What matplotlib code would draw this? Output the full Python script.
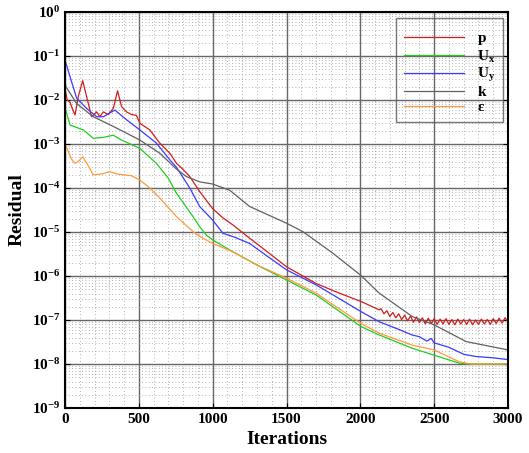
import numpy as np
import matplotlib
matplotlib.use('Agg')
import matplotlib.pyplot as plt
from matplotlib.ticker import FixedLocator, FixedFormatter, MultipleLocator, LogLocator

plt.rcParams['font.family'] = ['Liberation Serif', 'DejaVu Serif']
plt.rcParams['mathtext.fontset'] = 'custom'
plt.rcParams['mathtext.rm'] = 'Liberation Serif'
plt.rcParams['mathtext.bf'] = 'Liberation Serif:bold'
plt.rcParams['mathtext.it'] = 'Liberation Serif:italic'

# residual histories, x = iteration, e = log10(residual)
p_x = [0, 15, 34, 50, 68, 90, 120, 146, 180, 214, 236, 260, 293, 327, 356, 383, 417, 450, 484, 507,
       574, 642, 710, 755, 800, 845, 912, 1000, 1070, 1137, 1250, 1370, 1500, 1600, 1700, 1850, 2005,
       2128] + list(range(2140, 3001, 20))
p_e = [-1.75, -2.0, -2.05, -2.2, -2.34, -1.92, -1.56, -1.92, -2.38, -2.27, -2.38, -2.27, -2.33, -2.19,
       -1.79, -2.15, -2.27, -2.33, -2.35, -2.53, -2.68, -2.98, -3.21, -3.44, -3.58, -3.74, -4.08, -4.47,
       -4.68, -4.84, -5.14, -5.45, -5.79, -5.98, -6.17, -6.38, -6.58, -6.77,
       -6.74, -6.86, -6.79, -6.92, -6.83, -6.95, -6.86, -6.99, -6.89, -7.02, -6.91, -7.05, -6.93, -7.06,
       -6.95, -7.09, -6.96, -7.08, -6.97, -7.1, -6.98, -7.09, -6.97, -7.1, -6.99, -7.11, -6.98, -7.09,
       -6.99, -7.1, -6.98, -7.11, -7.0, -7.1, -6.98, -7.09, -6.99, -7.1, -6.97, -7.08, -6.96, -7.07,
       -6.95, -7.04]

ux_x = [0, 5, 34, 124, 191, 260, 327, 383, 507, 619, 700, 755, 867, 912, 957, 1000, 1137, 1300, 1500,
        1700, 2005, 2128, 2350, 2500, 2669, 2750, 3000]
ux_e = [-2.0, -2.23, -2.57, -2.68, -2.87, -2.85, -2.8, -2.91, -3.1, -3.44, -3.78, -4.12, -4.65, -4.88,
        -5.07, -5.18, -5.45, -5.75, -6.09, -6.43, -7.15, -7.34, -7.64, -7.8, -7.98, -8.0, -8.0]

uy_x = [0, 7, 34, 79, 146, 214, 260, 300, 338, 417, 507, 619, 710, 755, 845, 912, 1000, 1070, 1150,
        1250, 1370, 1500, 1600, 1700, 1850, 2005, 2128, 2250, 2350, 2400, 2450, 2480, 2500, 2600, 2700,
        2784, 2900, 3000]
uy_e = [-1.1, -1.17, -1.47, -1.96, -2.19, -2.38, -2.38, -2.3, -2.23, -2.45, -2.68, -2.98, -3.36, -3.53,
        -4.0, -4.42, -4.73, -5.03, -5.12, -5.26, -5.55, -5.86, -6.03, -6.2, -6.5, -6.81, -7.04, -7.2,
        -7.34, -7.38, -7.48, -7.42, -7.52, -7.62, -7.78, -7.83, -7.86, -7.9]

k_x = [0, 7, 79, 191, 327, 507, 642, 755, 822, 912, 1000, 1115, 1250, 1500, 1610, 1813, 2005, 2128,
       2351, 2500, 2716, 3000]
k_e = [-1.6, -1.7, -2.08, -2.38, -2.6, -2.91, -3.21, -3.57, -3.74, -3.86, -3.91, -4.05, -4.42, -4.8,
       -4.99, -5.48, -5.99, -6.39, -6.92, -7.11, -7.49, -7.68]

eps_x = [0, 20, 45, 68, 95, 120, 150, 191, 250, 304, 350, 394, 450, 507, 575, 642, 755, 867, 912, 1000,
         1137, 1300, 1500, 1700, 2005, 2128, 2350, 2500, 2669, 2750, 3000]
eps_e = [-3.0, -3.15, -3.35, -3.44, -3.38, -3.29, -3.45, -3.7, -3.68, -3.63, -3.68, -3.7, -3.72, -3.82,
         -4.0, -4.23, -4.65, -4.99, -5.1, -5.26, -5.45, -5.75, -6.05, -6.39, -7.08, -7.3, -7.57, -7.68,
         -7.95, -8.0, -8.0]

series = [
    (p_x, p_e, '#d41c1c', r'$\mathbf{p}$'),
    (ux_x, ux_e, '#22cc22', r'$\mathbf{U_x}$'),
    (uy_x, uy_e, '#3a3aff', r'$\mathbf{U_y}$'),
    (k_x, k_e, '#606060', r'$\mathbf{k}$'),
    (eps_x, eps_e, '#ff9a3c', r'$\mathbf{\epsilon}$'),
]

fig = plt.figure(figsize=(5.29, 4.53), dpi=100)
ax = fig.add_axes([65 / 529, 1 - 408 / 453, 443 / 529, 396 / 453])

for xs, es, c, lab in series:
    ax.semilogy(xs, np.power(10.0, es), color=c, lw=0.9, label=lab)

ax.set_xlim(0, 3000)
ax.set_ylim(1e-9, 1)

ax.xaxis.set_major_locator(MultipleLocator(500))
ax.xaxis.set_minor_locator(MultipleLocator(100))
decades = list(range(-9, 1))
ax.yaxis.set_major_locator(FixedLocator([10.0 ** d for d in decades]))
ax.yaxis.set_major_formatter(FixedFormatter([r'$\mathbf{10^{%d}}$' % d for d in decades]))
ax.yaxis.set_minor_locator(LogLocator(base=10, subs=np.arange(2, 10), numticks=20))

ax.grid(which='major', color='#666666', lw=1.0, ls='-')
ax.grid(which='minor', color='#999999', lw=0.6, ls=(0, (1, 3)))
ax.set_axisbelow(True)

ax.tick_params(which='both', direction='in', right=True, top=False, labelsize=11)
ax.tick_params(which='minor', length=0)
for lbl in ax.get_xticklabels():
    lbl.set_fontweight('bold')
for s in ax.spines.values():
    s.set_linewidth(1.5)

ax.set_xlabel('Iterations', fontsize=14, fontweight='bold')
ax.set_ylabel('Residual', fontsize=14, fontweight='bold')

leg = ax.legend(loc='upper right', bbox_to_anchor=(0.988, 0.985), fontsize=11, handlelength=3.9,
                labelspacing=0.08, fancybox=False, shadow=False, borderaxespad=0, handletextpad=0.85,
                borderpad=0.5, title=' ', title_fontsize=5)
frame = leg.get_frame()
frame.set_facecolor('none')
frame.set_edgecolor('#555555')
frame.set_linewidth(1.0)

fig.savefig('out.png', dpi=100)
